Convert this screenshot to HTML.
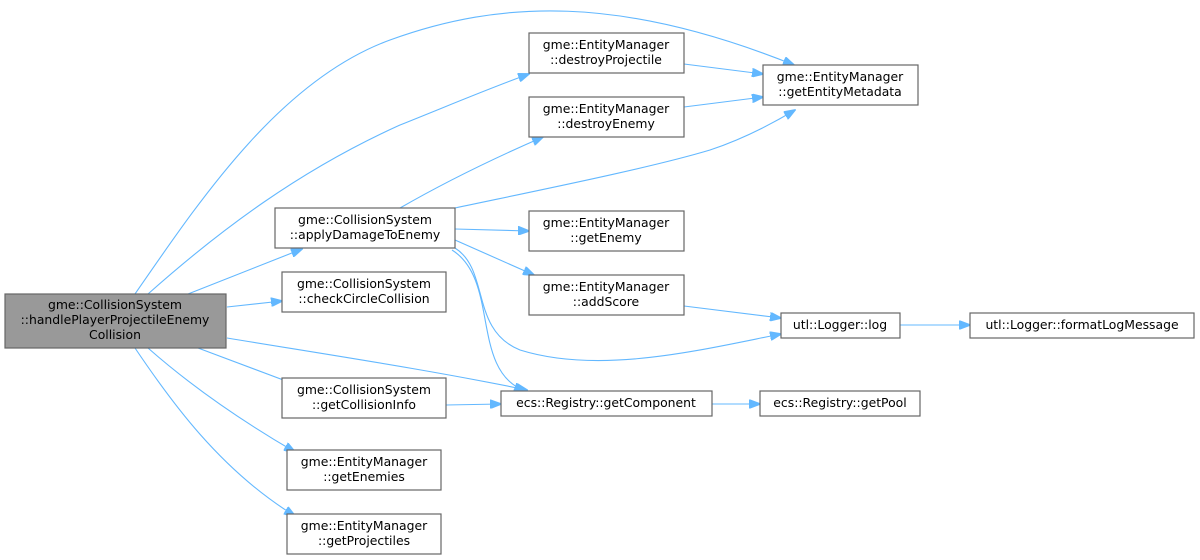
<!DOCTYPE html>
<html><head><meta charset="utf-8"><style>
html,body{margin:0;padding:0;background:#fff;}
svg{display:block}
text{font-family:"DejaVu Sans","Liberation Sans",sans-serif;font-size:12.4px;fill:#000;text-anchor:middle}
.n{fill:#fff;stroke:#666;stroke-width:1.2}
.e{fill:none;stroke:#63b8ff;stroke-width:1.1}
.a{fill:#63b8ff;stroke:#63b8ff}
</style></head><body>
<svg width="1200" height="560" viewBox="0 0 1200 560" xmlns="http://www.w3.org/2000/svg">
<defs><marker id="m" markerWidth="12" markerHeight="9" refX="11" refY="4.5" orient="auto" markerUnits="userSpaceOnUse"><path d="M0,0 L12,4.5 L0,9 z" class="a"/></marker></defs>
<g marker-end="url(#m)">
<path class="e" d="M135,294 C200,200 280,80 390,40 C500,0 620,-5 794,65"/>
<path class="e" d="M148,294 C220,230 300,170 400,125 C450,105 490,88 529,74"/>
<path class="e" d="M188,294 L302,249"/>
<path class="e" d="M227,307 L282,301"/>
<path class="e" d="M227,338 C330,355 430,370 527,390"/>
<path class="e" d="M198,348 L302,387"/>
<path class="e" d="M148,348 C190,385 240,420 295,452"/>
<path class="e" d="M135,348 C170,400 220,470 295,516"/>
<path class="e" d="M400,208 C440,185 490,160 543,137"/>
<path class="e" d="M455,208 C540,190 650,168 710,150 C740,140 770,125 795,110"/>
<path class="e" d="M455,229 L529,231"/>
<path class="e" d="M455,240 L534,275"/>
<path class="e" d="M455,248 C490,270 470,330 520,350 C600,375 700,350 781,334"/>
<path class="e" d="M452,250 C500,280 470,370 525,391"/>
<path class="e" d="M684,64 L763,74"/>
<path class="e" d="M684,107 L763,97"/>
<path class="e" d="M684,306 L781,318"/>
<path class="e" d="M900,325 L970,325"/>
<path class="e" d="M446,405 L501,404"/>
<path class="e" d="M712,404 L760,404"/>
</g>
<rect x="5" y="294" width="221" height="54" fill="#999" stroke="#666" stroke-width="1.2"/>
<text x="115" y="309">gme::CollisionSystem</text><text x="115" y="324">::handlePlayerProjectileEnemy</text><text x="115" y="339">Collision</text>
<rect class="n" x="275" y="208" width="180" height="40"/><text x="365" y="224">gme::CollisionSystem</text><text x="365" y="239">::applyDamageToEnemy</text>
<rect class="n" x="282" y="272" width="164" height="40"/><text x="364" y="288">gme::CollisionSystem</text><text x="364" y="303">::checkCircleCollision</text>
<rect class="n" x="282" y="378" width="164" height="40"/><text x="364" y="394">gme::CollisionSystem</text><text x="364" y="409">::getCollisionInfo</text>
<rect class="n" x="287" y="450" width="154" height="40"/><text x="364" y="466">gme::EntityManager</text><text x="364" y="481">::getEnemies</text>
<rect class="n" x="287" y="514" width="154" height="40"/><text x="364" y="530">gme::EntityManager</text><text x="364" y="545">::getProjectiles</text>
<rect class="n" x="529" y="33" width="155" height="40"/><text x="606" y="49">gme::EntityManager</text><text x="606" y="64">::destroyProjectile</text>
<rect class="n" x="529" y="97" width="155" height="40"/><text x="606" y="113">gme::EntityManager</text><text x="606" y="128">::destroyEnemy</text>
<rect class="n" x="529" y="211" width="155" height="40"/><text x="606" y="227">gme::EntityManager</text><text x="606" y="242">::getEnemy</text>
<rect class="n" x="529" y="275" width="155" height="40"/><text x="606" y="291">gme::EntityManager</text><text x="606" y="306">::addScore</text>
<rect class="n" x="763" y="65" width="155" height="40"/><text x="840" y="81">gme::EntityManager</text><text x="840" y="96">::getEntityMetadata</text>
<rect class="n" x="781" y="313" width="119" height="25"/><text x="840" y="329">utl::Logger::log</text>
<rect class="n" x="970" y="313" width="224" height="25"/><text x="1082" y="329">utl::Logger::formatLogMessage</text>
<rect class="n" x="501" y="391" width="211" height="25"/><text x="606" y="407">ecs::Registry::getComponent</text>
<rect class="n" x="760" y="391" width="160" height="25"/><text x="840" y="407">ecs::Registry::getPool</text>
</svg>
</body></html>
